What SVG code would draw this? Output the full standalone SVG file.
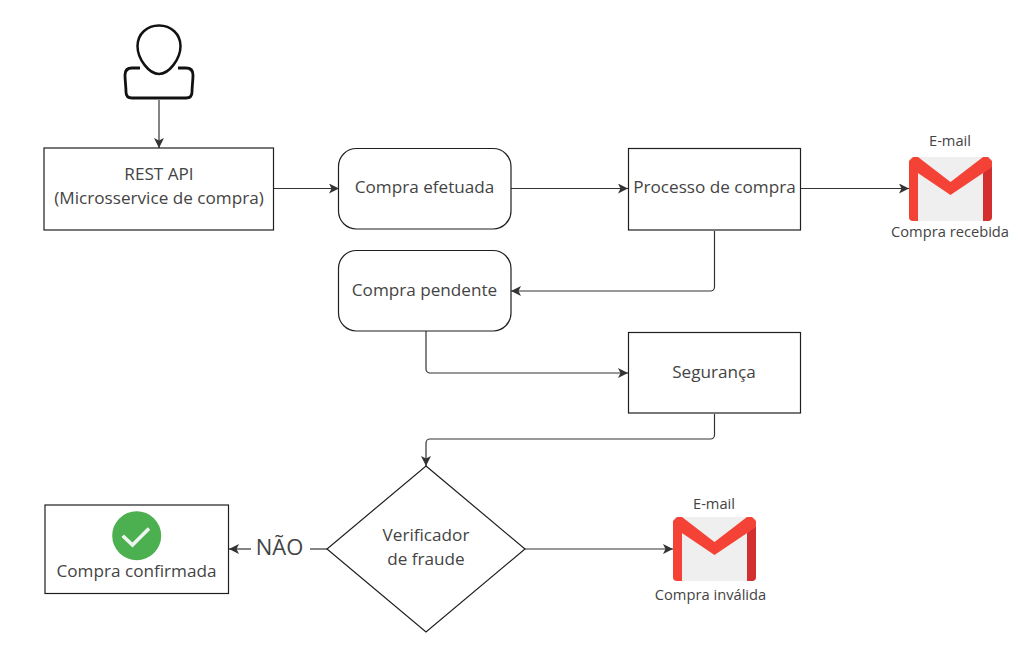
<svg xmlns="http://www.w3.org/2000/svg" width="1022" height="657" viewBox="0 0 1022 657">
<style>
text{font-family:"Open Sans","Noto Sans",sans-serif;fill:#444;text-anchor:middle}
.t{font-size:17.150px}
.s{font-size:14.700px}
.b{fill:#fff;stroke:#1f1f1f;stroke-width:1.2}
.c{fill:none;stroke:#333;stroke-width:1.2;marker-end:url(#a)}
</style>
<defs>
<marker id="a" markerUnits="userSpaceOnUse" markerWidth="11" markerHeight="10" refX="10" refY="5" orient="auto"><path d="M0 0L10 5L0 10L2.500 5Z" fill="#333"/></marker>
<g id="gm">
<rect x="0" y="0" width="83" height="64" rx="4" fill="#efefef"/>
<path d="M0 8V60a4 4 0 0 0 4 4H9V16Z" fill="#f44336"/>
<path d="M0 9L9 16V14Z" fill="#c62828" opacity=".7"/>
<path d="M83 8V60a4 4 0 0 1-4 4H74V16Z" fill="#d32f2f"/>
<path d="M4 0L0 4V10L41.500 38L83 10V4L79 0H74L41.500 25L9 0Z" fill="#f44336"/>
</g>
</defs>
<g id="connectors">
<path class="c" d="M159 100V148"/>
<path class="c" d="M274 188.500H339"/>
<path class="c" d="M511 188.500H628"/>
<path class="c" d="M801 188.500H909"/>
<path class="c" d="M714.500 231V287a4 4 0 0 1-4 4H511"/>
<path class="c" d="M426 331V369a4 4 0 0 0 4 4H628"/>
<path class="c" d="M714.500 414V435a4 4 0 0 1-4 4H430a4 4 0 0 0-4 4V466"/>
<path class="c" d="M525 549H673"/>
<path class="c" d="M251 549H229"/>
<path fill="none" stroke="#333" stroke-width="1.200" d="M327 549H310"/>
</g>
<g id="user">
<path d="M140 68H132C127 68 125 71 125 75C125 80 126 87 126 92C126 96 128 98 132 98H186C190 98 192 96 192 92C192 87 193 80 193 75C193 71 191 68 186 68H178" fill="#fff" stroke="#111" stroke-width="2.800"/>
<path d="M159 25.500C147 25.500 137.500 34 137.500 46C137.500 59 149 74 159 74C169 74 180.500 59 180.500 46C180.500 34 171 25.500 159 25.500Z" fill="#fff" stroke="#111" stroke-width="2.500"/>
</g>
<g id="rest"><rect class="b" x="44" y="148" width="229.500" height="82"/>
<text class="t" x="159" y="180">REST API</text><text class="t" x="159" y="204">(Microsservice de compra)</text></g>
<g id="efetuada"><rect class="b" x="338.500" y="148.500" width="172.500" height="80.500" rx="18"/>
<text class="t" x="424.500" y="193">Compra efetuada</text></g>
<g id="processo"><rect class="b" x="628.500" y="148.500" width="172" height="81.500"/>
<text class="t" x="714.500" y="193">Processo de compra</text></g>
<g id="email1"><text class="s" x="950" y="146">E-mail</text>
<use href="#gm" x="909" y="157"/>
<text class="s" x="950" y="237">Compra recebida</text></g>
<g id="pendente"><rect class="b" x="338.500" y="250.500" width="172.500" height="80.500" rx="18"/>
<text class="t" x="424.500" y="296">Compra pendente</text></g>
<g id="seguranca"><rect class="b" x="628.500" y="332.500" width="172" height="80.500"/>
<text class="t" x="714" y="378">Segurança</text></g>
<g id="verificador"><path class="b" d="M426 466L525 549L426 632L327 549Z"/>
<text class="t" x="426" y="541">Verificador</text><text class="t" x="426" y="565">de fraude</text></g>
<g id="confirmada"><rect class="b" x="45" y="505" width="183.500" height="88.500"/>
<circle cx="136.700" cy="535.700" r="24.500" fill="#4caf50"/>
<path d="M122.700 535.700L132.500 545L149 528.500" fill="none" stroke="#eef5ee" stroke-width="3.600"/>
<text class="t" x="136.500" y="577">Compra confirmada</text></g>
<g id="nao"><text x="279.500" y="555" font-size="22">NÃO</text></g>
<g id="email2"><text class="s" x="714" y="509">E-mail</text>
<use href="#gm" x="673" y="517"/>
<text class="s" x="710.500" y="600">Compra inválida</text></g>
</svg>
